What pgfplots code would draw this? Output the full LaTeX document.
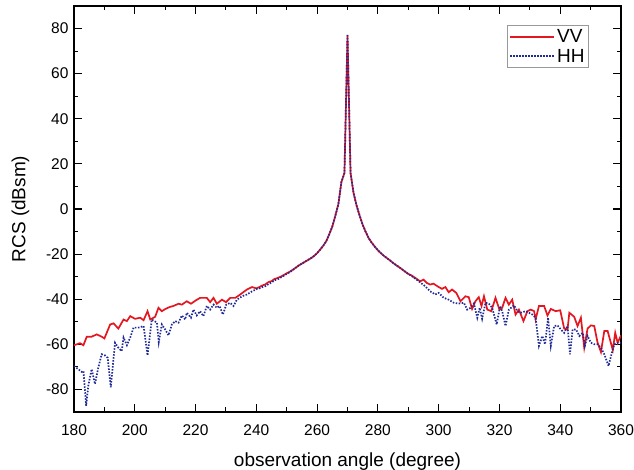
\documentclass[border=0pt]{standalone}
\usepackage{pgfplots}
\pgfplotsset{compat=1.18}
\usepackage{pgfplotstable}
\usepackage{fontspec}
\setmainfont{Liberation Sans}
\definecolor{vvred}{RGB}{228,22,32}
\definecolor{hhblue}{RGB}{32,42,150}
\pgfplotstableread{
x y
180.0 -60.4
182.0 -59.5
183.1 -60.4
184.2 -56.6
185.8 -56.6
187.5 -55.6
189.1 -56.6
190.0 -57.4
191.9 -51.2
193.0 -50.7
194.6 -53.0
196.3 -49.0
197.4 -49.7
198.5 -47.5
200.1 -48.7
201.8 -48.2
202.9 -49.3
204.2 -45.3
205.1 -49.0
206.7 -47.8
207.8 -43.8
208.9 -45.3
210.1 -44.3
211.6 -43.4
212.7 -43.0
214.4 -42.0
215.5 -42.4
217.1 -40.9
218.5 -42.0
220.1 -40.5
221.5 -39.4
223.7 -39.4
224.8 -41.3
225.9 -39.4
227.0 -42.0
228.7 -40.2
230.0 -41.3
231.4 -39.4
233.1 -39.4
234.7 -37.9
236.9 -35.7
238.6 -34.6
240.0 -35.2
241.0 -34.6
242.0 -33.9
243.0 -33.4
244.0 -32.4
245.0 -32.0
246.0 -31.0
247.0 -30.6
248.0 -30.0
249.0 -29.3
250.0 -28.5
251.0 -27.8
252.0 -26.9
253.0 -26.0
254.0 -25.0
255.0 -24.2
256.0 -23.4
257.0 -22.6
258.0 -21.8
259.0 -20.8
260.0 -19.6
261.0 -18.0
262.0 -16.3
263.0 -14.3
264.0 -11.2
265.0 -7.8
266.0 -3.0
267.0 2.2
268.0 12.0
269.0 16.0
270.0 77.0
271.0 16.0
272.0 7.0
273.0 1.5
274.0 -3.0
275.0 -7.0
276.0 -10.2
277.0 -13.0
278.0 -15.0
279.0 -16.7
280.0 -18.3
281.0 -19.6
282.0 -20.8
283.0 -21.8
284.0 -22.8
285.0 -23.9
286.0 -24.9
287.0 -25.8
288.0 -26.8
289.0 -27.8
290.0 -28.8
291.0 -29.4
292.0 -30.3
293.0 -31.2
293.9 -32.1
295.0 -31.3
296.1 -32.8
297.2 -33.5
298.3 -33.1
300.0 -34.6
301.1 -35.4
302.2 -34.6
303.3 -36.9
304.4 -35.7
305.8 -37.2
307.2 -40.9
308.8 -38.7
309.9 -39.1
311.0 -44.3
312.1 -40.9
313.2 -39.1
314.1 -43.0
314.9 -38.7
316.0 -44.6
317.3 -45.3
318.7 -39.4
320.0 -44.6
320.9 -43.8
322.0 -39.4
323.1 -42.4
324.2 -40.2
325.3 -46.8
326.4 -44.6
327.9 -49.7
329.2 -45.3
330.3 -44.6
331.4 -45.3
331.9 -49.0
333.0 -43.0
334.7 -43.0
335.8 -47.2
336.9 -44.3
338.5 -45.3
340.0 -44.9
341.3 -53.0
342.4 -53.4
343.0 -46.0
344.6 -47.8
345.7 -51.9
346.8 -48.2
347.9 -61.5
349.0 -53.0
350.1 -51.6
351.2 -51.9
352.3 -59.3
353.4 -63.4
354.5 -54.1
355.6 -54.1
357.3 -62.5
358.1 -54.9
358.9 -59.3
360.0 -56.0
}\vvdata
\pgfplotstableread{
x y
180.0 -69.6
181.4 -71.0
182.5 -72.2
183.1 -71.8
184.0 -87.2
184.7 -78.4
185.8 -71.0
186.9 -77.6
188.0 -70.3
189.1 -64.4
190.2 -64.9
191.1 -66.0
192.1 -79.1
193.5 -59.3
194.6 -61.5
195.7 -63.0
196.3 -57.0
197.4 -60.4
198.5 -57.0
199.6 -52.6
201.2 -52.6
202.9 -51.9
204.2 -64.9
205.6 -49.0
207.3 -50.4
207.9 -59.0
208.9 -51.2
210.0 -53.4
211.1 -56.0
212.2 -51.2
213.3 -49.7
214.4 -50.4
215.5 -47.2
216.6 -49.0
217.1 -46.0
218.5 -48.2
219.3 -44.6
220.4 -47.2
221.5 -45.3
222.6 -47.5
223.7 -43.0
224.8 -44.6
225.9 -42.4
227.0 -43.8
227.9 -43.0
229.0 -46.8
230.1 -42.4
231.4 -41.6
232.5 -43.0
233.6 -40.2
235.3 -38.7
236.9 -37.9
238.6 -36.5
240.2 -35.4
241.0 -35.2
242.0 -34.6
243.0 -34.2
244.0 -33.3
245.0 -32.6
246.0 -31.6
247.0 -31.2
248.0 -30.4
249.0 -29.6
250.0 -28.8
251.0 -28.0
252.0 -27.1
253.0 -26.0
254.0 -25.0
255.0 -24.2
256.0 -23.4
257.0 -22.6
258.0 -21.8
259.0 -20.8
260.0 -19.6
261.0 -18.0
262.0 -16.3
263.0 -14.3
264.0 -11.2
265.0 -7.8
266.0 -3.0
267.0 2.2
268.0 12.0
269.0 16.0
270.0 77.5
271.0 16.0
272.0 7.0
273.0 1.5
274.0 -3.0
275.0 -7.0
276.0 -10.2
277.0 -13.0
278.0 -15.0
279.0 -16.7
280.0 -18.3
281.0 -19.6
282.0 -20.8
283.0 -21.8
284.0 -22.8
285.0 -23.9
286.0 -24.9
287.0 -25.8
288.0 -26.8
289.0 -27.8
290.0 -28.8
291.0 -29.6
292.0 -30.6
293.0 -31.6
293.9 -32.5
295.6 -34.3
297.2 -36.5
298.9 -37.9
300.0 -37.2
301.7 -39.4
303.3 -40.2
305.0 -41.6
306.6 -41.9
308.3 -41.6
309.4 -44.6
310.5 -43.8
311.6 -41.9
312.7 -48.2
313.5 -43.8
314.3 -48.7
315.4 -41.6
316.5 -41.9
317.6 -43.8
319.1 -51.2
320.2 -43.0
320.9 -45.3
322.0 -51.9
323.1 -44.6
324.8 -42.7
325.9 -45.3
327.0 -46.0
328.6 -45.3
329.7 -46.0
330.8 -46.8
331.9 -48.2
333.0 -60.7
334.1 -56.3
335.0 -60.0
336.0 -48.2
336.9 -60.7
338.0 -51.9
339.1 -51.6
340.2 -53.4
341.3 -54.9
342.4 -51.9
343.2 -64.4
344.1 -53.4
345.2 -53.4
346.3 -56.3
347.4 -54.9
348.1 -60.7
349.0 -56.3
350.1 -59.3
351.2 -60.0
352.3 -60.0
353.4 -61.5
354.5 -64.4
355.9 -69.6
357.0 -63.7
357.8 -60.0
358.9 -59.3
360.0 -59.3
}\hhdata
\begin{document}
\begin{tikzpicture}
\useasboundingbox (-74pt,-58pt) rectangle (560pt,412pt);
\begin{axis}[
  at={(0pt,0pt)}, anchor=south west,
  scale only axis, width=547pt, height=406pt,
  xmin=180, xmax=360, ymin=-90, ymax=90,
  xtick={180,200,...,360}, ytick={-80,-60,...,80},
  minor xtick={190,210,...,350}, minor ytick={-90,-70,...,90},
  tick align=inside,
  major tick length=8pt, minor tick length=4.5pt,
  every tick/.style={black, line width=1.1pt},
  axis line style={line width=1.3pt},
  tick label style={font=\fontsize{15.5}{18}\selectfont},
  /pgf/number format/assume math mode=true,
  xticklabel style={yshift=-9pt},
  yticklabel style={xshift=-2pt},
  xlabel={observation angle (degree)},
  ylabel={RCS (dBsm)},
  label style={font=\fontsize{19}{22}\selectfont},
  xlabel style={yshift=-10pt},
  ylabel style={yshift=10pt},
  legend style={at={(0.9415,0.953)}, anchor=north east, draw=gray!80, line width=0.8pt,
    font=\fontsize{19}{22}\selectfont, inner sep=2pt, row sep=1pt, cells={anchor=west}},
  legend image code/.code={\draw[#1] (0pt,0pt) -- (44pt,0pt);},
]
\addplot[vvred, line width=1.7pt, mark=none] table[x=x,y=y] {\vvdata};
\addlegendentry{VV}
\addplot[hhblue, line width=1.7pt, dash pattern=on 1.5pt off 1.5pt, mark=none] table[x=x,y=y] {\hhdata};
\addlegendentry{HH}
\end{axis}
\end{tikzpicture}
\end{document}
